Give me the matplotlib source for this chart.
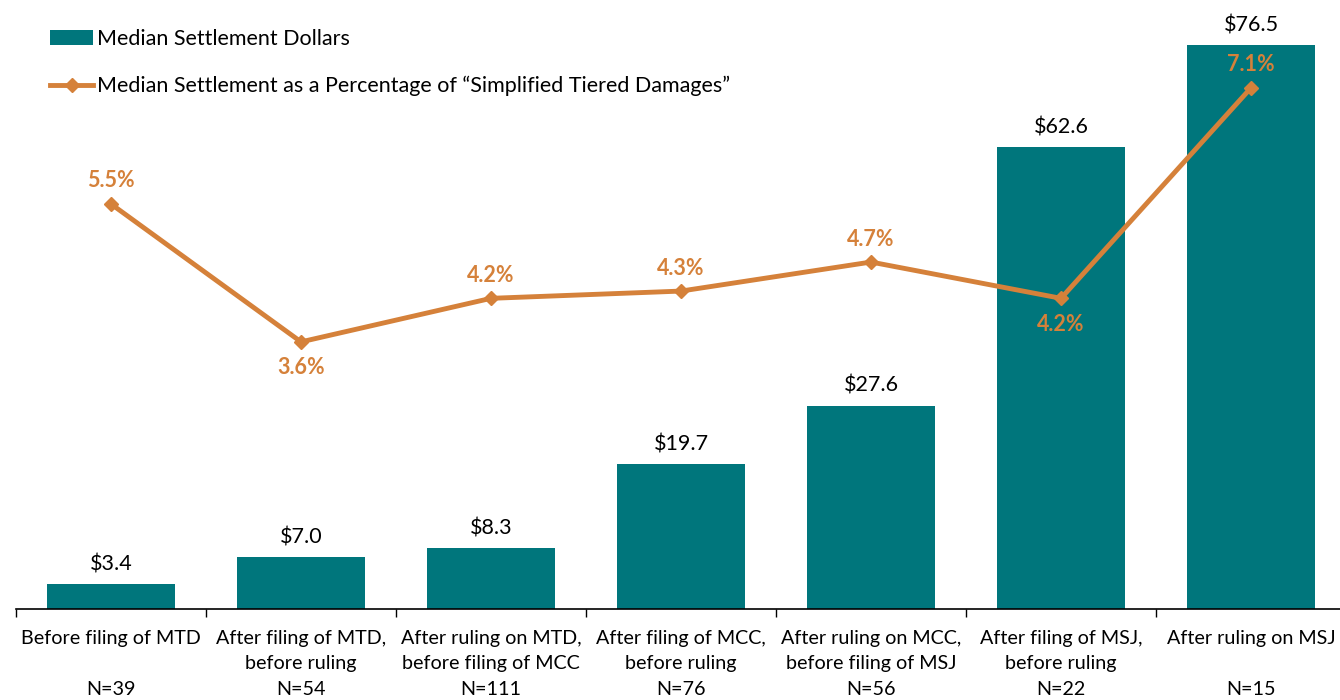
import matplotlib
matplotlib.use("Agg")
import matplotlib.pyplot as plt
import numpy as np

stages = ["Before filing of MTD", "After filing of MTD,\nbefore ruling",
          "After ruling on MTD,\nbefore filing of MCC", "After filing of MCC,\nbefore ruling",
          "After ruling on MCC,\nbefore filing of MSJ", "After filing of MSJ,\nbefore ruling",
          "After ruling on MSJ"]
counts = [39, 54, 111, 76, 56, 22, 15]
dollars = [3.4, 7.0, 8.3, 19.7, 27.6, 62.6, 76.5]
pct = [5.5, 3.6, 4.2, 4.3, 4.7, 4.2, 7.1]
pct_below = [False, True, False, False, False, True, False]

TEAL = "#00767C"
ORANGE = "#D5813A"

plt.rcParams['font.family'] = ['Lato', 'DejaVu Sans']

fig = plt.figure(figsize=(13.4, 7.0), dpi=100)
ax = fig.add_axes([16/1340, 91/700, 1330/1340, 609/700])
x = np.arange(len(stages))
bars = ax.bar(x, dollars, width=0.67, color=TEAL, label="Median Settlement Dollars", zorder=2)
ax.set_xlim(-0.5, 6.5)
ax.set_ylim(0, 82.6)
for xi, v in zip(x, dollars):
    ax.annotate(f"${v:.1f}", (xi, v), xytext=(0, 7), textcoords="offset points",
                ha="center", va="bottom", fontsize=15.5, color="black")

for s in ["top", "right", "left"]:
    ax.spines[s].set_visible(False)
ax.spines["bottom"].set_linewidth(1.2)
ax.set_yticks([])
ax.set_xticks(x)
ax.set_xticklabels([f"{s}\n\nN={n}" if "\n" not in s else f"{s}\nN={n}" for s, n in zip(stages, counts)],
                   fontsize=14.2, linespacing=1.6, va="top")
ax.tick_params(axis="x", which="major", length=0, pad=15)
ax.set_xticks(np.arange(-0.5, 7.0, 1.0), minor=True)
ax.tick_params(axis="x", which="minor", length=6, width=1)

ax2 = ax.twinx()
ax2.set_ylim(-0.08, 8.31)
ax2.axis("off")
line, = ax2.plot(x, pct, color=ORANGE, lw=3.5, marker="D", markersize=7,
                 label="Median Settlement as a Percentage of \u201cSimplified Tiered Damages\u201d", zorder=3)
for xi, v, below in zip(x, pct, pct_below):
    ax2.annotate(f"{v:.1f}%", (xi, v), xytext=(0, -11 if below else 9), textcoords="offset points",
                 ha="center", va="top" if below else "bottom", fontsize=15.5, fontweight="bold", color=ORANGE)

fig.legend(handles=[bars, line], loc="upper left", bbox_to_anchor=(50/1340, 1 - 29/700),
           frameon=False, fontsize=15.5, handlelength=2.0, handletextpad=0.2, labelspacing=1.25,
           borderaxespad=0, borderpad=0)

fig.savefig("out.png", dpi=100)
